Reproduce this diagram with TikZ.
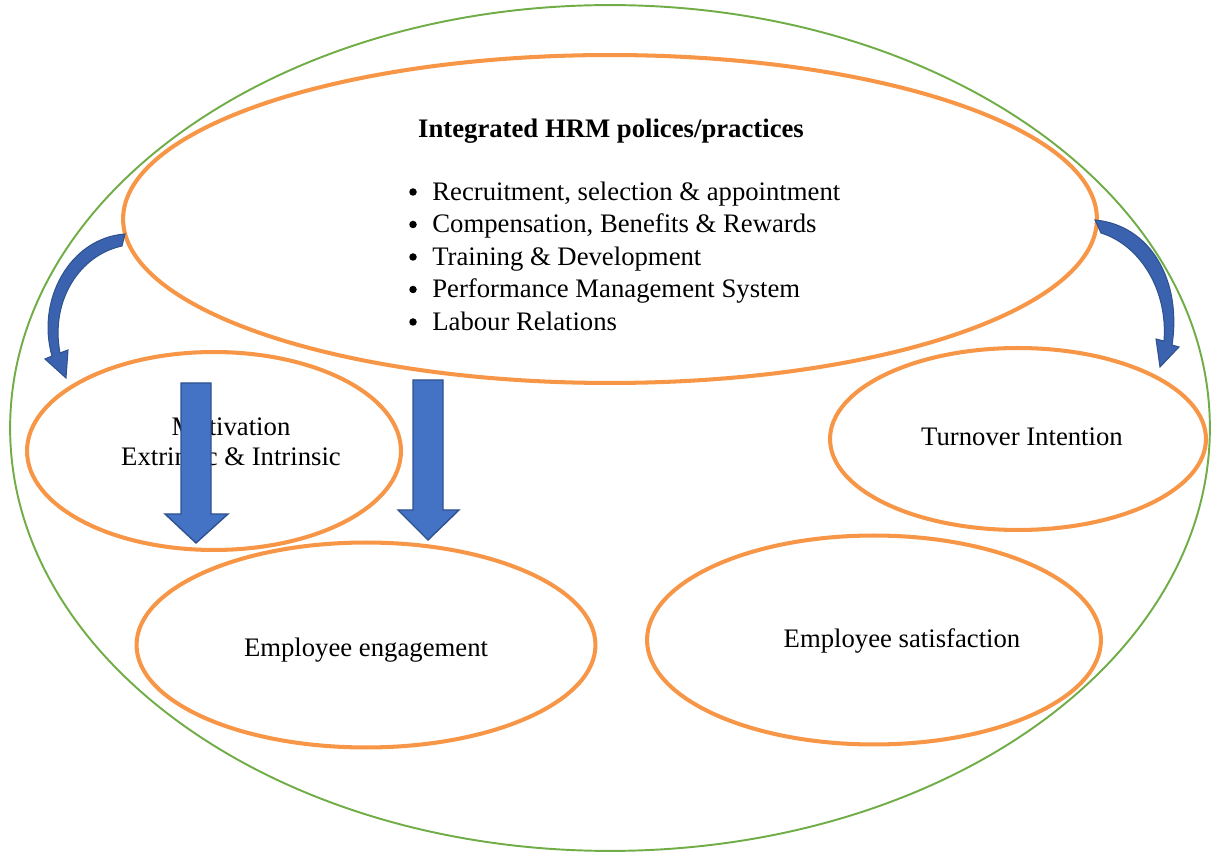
\documentclass[tikz,border=0pt]{standalone}
\usepackage{fontspec}
\setmainfont{Liberation Serif}
\usetikzlibrary{shapes.geometric}
\definecolor{orng}{HTML}{F79646}
\definecolor{grn}{HTML}{70AD47}
\definecolor{blu}{HTML}{4472C4}
\definecolor{bluedge}{HTML}{2F528F}
\definecolor{bludark}{HTML}{3A62AE}
\begin{document}
\begin{tikzpicture}[x=0.02cm,y=-0.02cm,
  oval/.style={ellipse, draw=orng, line width=2.3pt, inner sep=0pt},
  txt/.style={font=\fontsize{15.2}{18}\selectfont, inner sep=0pt, anchor=base},
  bul/.style={font=\fontsize{15.2}{18}\selectfont, inner sep=0pt, anchor=base west},
  dot/.style={circle, fill=black, inner sep=0pt, minimum size=0.15cm},
  blockarrow/.style={fill=blu, draw=bluedge, line width=0.8pt, line join=miter},
  curvearrow/.style={fill=bludark, draw=bluedge, line width=0.6pt, line join=miter}]
\useasboundingbox (0,0) rectangle (1211,854);
\node[ellipse, draw=grn, line width=1.1pt, minimum width=24cm, minimum height=16.92cm, inner sep=0pt] (outer) at (610,428) {};
\node[oval, minimum width=19.48cm, minimum height=6.56cm] (hrm) at (610,219) {};
\node[oval, minimum width=7.48cm, minimum height=3.96cm] (motiv) at (214,451) {};
\node[oval, minimum width=7.52cm, minimum height=3.64cm] (turn) at (1018,439) {};
\node[oval, minimum width=9.18cm, minimum height=4.10cm] (engage) at (366,645) {};
\node[oval, minimum width=9.08cm, minimum height=4.18cm] (satis) at (874,640) {};

\node[txt, font=\fontsize{15.2}{18}\selectfont\bfseries] (title) at (611,137.5) {Integrated HRM polices/practices};
\foreach \n/\y/\t in {b1/200.5/{Recruitment, selection \& appointment},
                      b2/233/{Compensation, Benefits \& Rewards},
                      b3/265.5/{Training \& Development},
                      b4/298/{Performance Management System},
                      b5/330.5/{Labour Relations}}{
  \node[dot] (\n dot) at (413,\y-8.5) {};
  \node[bul] (\n) at (432,\y) {\t};
}
\node[txt] (mot1) at (231,435.5) {Motivation};
\node[txt] (mot2) at (231,465.5) {Extrinsic \& Intrinsic};
\node[txt] (turntxt) at (1022,445.5) {Turnover Intention};
\node[txt] (engtxt) at (366,656.5) {Employee engagement};
\node[txt] (sattxt) at (902,647.5) {Employee satisfaction};

% straight block arrows
\draw[blockarrow] (181,383) -- (211,383) -- (211,514) -- (228,514) -- (196,543) -- (165,514) -- (181,514) -- cycle;
\draw[blockarrow] (413,380) -- (443,380) -- (443,510) -- (459,510) -- (428,540) -- (398,510) -- (413,510) -- cycle;

% curved arrows
\draw[curvearrow] (125,234) .. controls (70,238) and (36,300) .. (52,356)
  -- (45,359) -- (66,378) -- (68,350) -- (60,353)
  .. controls (50,300) and (80,255) .. (122,246) -- cycle;
\draw[curvearrow] (1095,220) .. controls (1150,225) and (1182,280) .. (1172,345)
  -- (1179,347) -- (1160,367) -- (1156,339) -- (1164,341)
  .. controls (1168,290) and (1140,245) .. (1101,233) -- cycle;
\end{tikzpicture}
\end{document}
